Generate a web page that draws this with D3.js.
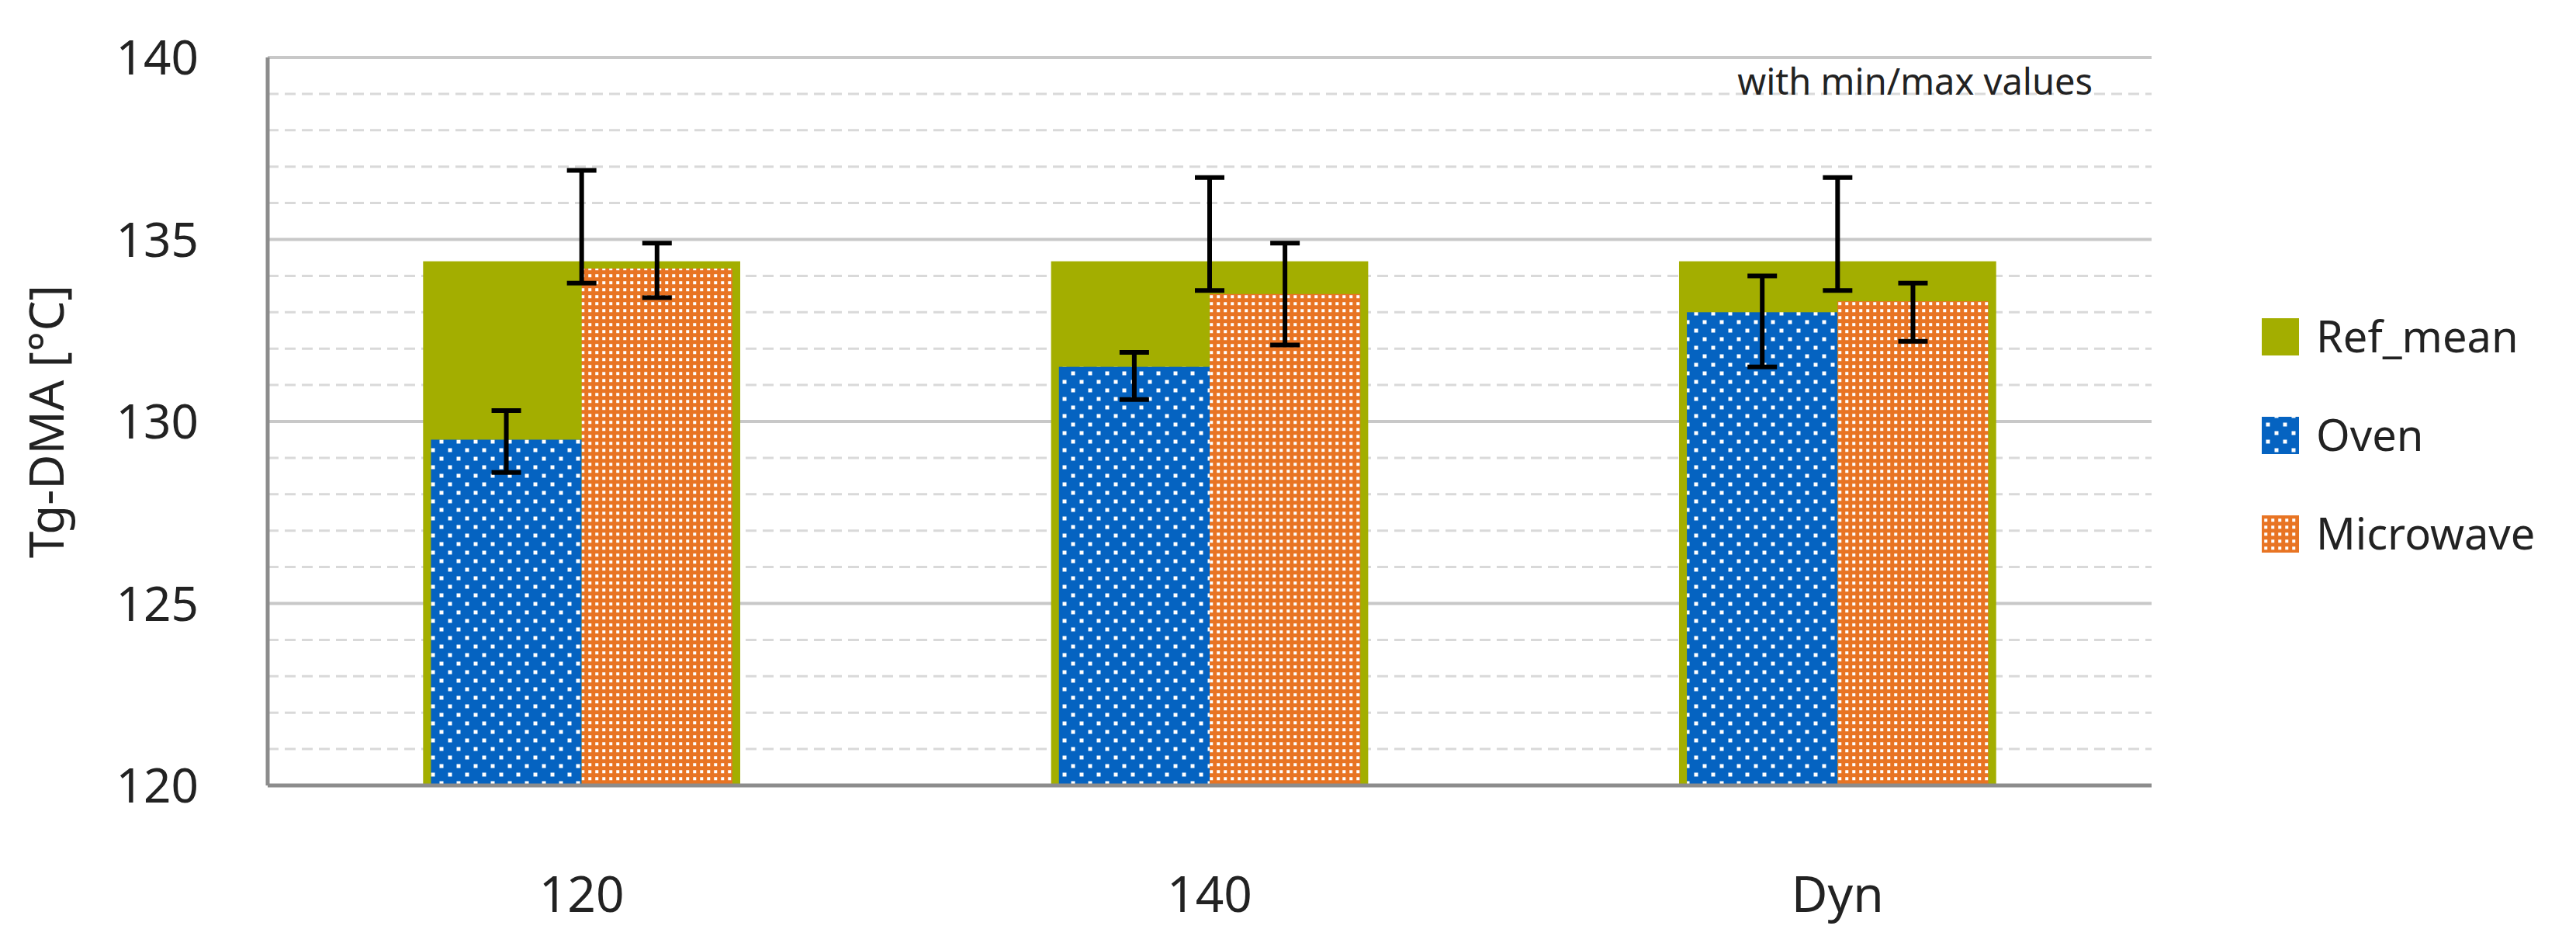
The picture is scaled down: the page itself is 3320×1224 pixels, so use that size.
<!DOCTYPE html>
<html><head><meta charset="utf-8">
<script src="https://cdn.jsdelivr.net/npm/d3@7"></script>
<style>body{margin:0;background:#fff}</style></head>
<body><svg id="c" width="3320" height="1224"></svg>
<script>
const categories = ["120","140","Dyn"];
const refMean = [134.4,134.4,134.4];
const refMin = [133.8,133.6,133.6];
const refMax = [136.9,136.7,136.7];
const oven = [129.5,131.5,133.0];
const ovenMin = [128.6,130.6,131.5];
const ovenMax = [130.3,131.9,134.0];
const micro = [134.2,133.5,133.3];
const microMin = [133.4,132.1,132.2];
const microMax = [134.9,134.9,133.8];
const yTicks = [120,125,130,135,140];
const seriesNames = ["Ref_mean","Oven","Microwave"];

const svg = d3.select("#c");
const L=345,R=2773,T=74,B=1012;
const font="'Noto Sans', 'DejaVu Sans', sans-serif";
const x = d3.scaleBand().domain(categories).range([L,R]);
const y = d3.scaleLinear().domain([120,140]).range([B,T]);
const defs = svg.append("defs");
function pat(id,color,step,dot){
  const p=defs.append("pattern").attr("id",id).attr("patternUnits","userSpaceOnUse").attr("width",step).attr("height",step);
  p.append("rect").attr("width",step).attr("height",step).attr("fill",color);
  p.append("rect").attr("x",step/4).attr("y",step/4).attr("width",dot).attr("height",dot).attr("fill","#fff");
  if(id==="po") p.append("rect").attr("x",step*3/4).attr("y",step*3/4).attr("width",dot).attr("height",dot).attr("fill","#fff");
}
pat("po","#0563C1",22,5);
pat("pm","#E87423",9,4);
// grid
const minor=d3.range(121,140).filter(v=>v%5);
svg.selectAll(".mg").data(minor).join("line").attr("x1",L).attr("x2",R).attr("y1",d=>y(d)).attr("y2",d=>y(d))
 .attr("stroke","#d9d9d9").attr("stroke-width",3).attr("stroke-dasharray","14,8");
svg.selectAll(".gg").data(yTicks.slice(1)).join("line").attr("x1",L).attr("x2",R).attr("y1",d=>y(d)).attr("y2",d=>y(d))
 .attr("stroke","#c8c8c8").attr("stroke-width",4);
// bars
const bw=x.bandwidth();
const refW=bw*0.505, subW=bw*0.24;
svg.selectAll(".rb").data(categories).join("rect").attr("x",d=>x(d)+bw/2-refW/2).attr("width",refW)
 .attr("y",(d,i)=>y(refMean[i])).attr("height",(d,i)=>B-y(refMean[i])).attr("fill","#A3AE00");
svg.selectAll(".ob").data(categories).join("rect").attr("x",d=>x(d)+bw/2-subW).attr("width",subW)
 .attr("y",(d,i)=>y(oven[i])).attr("height",(d,i)=>B-y(oven[i])).attr("fill","url(#po)");
svg.selectAll(".mb").data(categories).join("rect").attr("x",d=>x(d)+bw/2).attr("width",subW)
 .attr("y",(d,i)=>y(micro[i])).attr("height",(d,i)=>B-y(micro[i])).attr("fill","url(#pm)");
function err(cx,lo,hi){
  const g=svg.append("g").attr("stroke","#000").attr("stroke-width",6);
  g.append("line").attr("x1",cx).attr("x2",cx).attr("y1",y(lo)).attr("y2",y(hi));
  [lo,hi].forEach(v=>g.append("line").attr("x1",cx-19).attr("x2",cx+19).attr("y1",y(v)).attr("y2",y(v)));
}
categories.forEach((c,i)=>{
  const cx=x(c)+bw/2;
  err(cx-subW/2,ovenMin[i],ovenMax[i]);
  err(cx+subW/2,microMin[i],microMax[i]);
  err(cx,refMin[i],refMax[i]);
});
// axes
svg.append("line").attr("x1",L).attr("x2",L).attr("y1",T).attr("y2",B).attr("stroke","#8c8c8c").attr("stroke-width",5);
svg.append("line").attr("x1",L).attr("x2",R).attr("y1",B).attr("y2",B).attr("stroke","#8c8c8c").attr("stroke-width",5);
svg.selectAll(".yt").data(yTicks).join("text").attr("x",256).attr("y",d=>y(d)+22).attr("text-anchor","end")
 .attr("font-family",font).attr("font-size",62).attr("fill","#222").text(d=>d);
svg.selectAll(".xt").data(categories).join("text").attr("x",d=>x(d)+bw/2).attr("y",1175).attr("text-anchor","middle")
 .attr("font-family",font).attr("font-size",64).attr("fill","#222").text(d=>d);
svg.append("text").attr("transform","translate(82,"+(y(130))+") rotate(-90)").attr("text-anchor","middle")
 .attr("font-family",font).attr("font-size",62).attr("fill","#222").text("Tg-DMA [°C]");
svg.append("text").attr("x",2697).attr("y",122).attr("text-anchor","end").attr("font-family",font).attr("font-size",47)
 .attr("fill","#222").text("with min/max values");
// legend
const fills=["#A3AE00","url(#po)","url(#pm)"];
seriesNames.forEach((n,i)=>{
  const cy=434+i*127;
  svg.append("rect").attr("x",2915).attr("y",cy-24).attr("width",48).attr("height",48).attr("fill",fills[i]);
  svg.append("text").attr("x",2985).attr("y",cy+20).attr("font-family",font).attr("font-size",56).attr("fill","#222").text(n);
});
</script></body></html>
